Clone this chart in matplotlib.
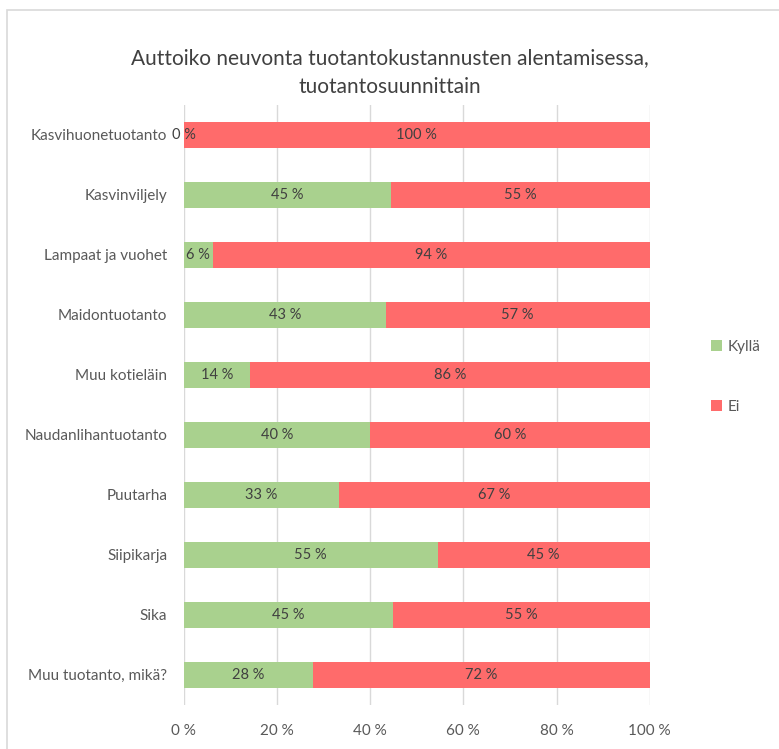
import matplotlib.pyplot as plt
from matplotlib.patches import Rectangle
import numpy as np

plt.rcParams['font.family'] = ['Lato', 'DejaVu Sans']

categories = ["Kasvihuonetuotanto", "Kasvinviljely", "Lampaat ja vuohet", "Maidontuotanto",
              "Muu kotieläin", "Naudanlihantuotanto", "Puutarha", "Siipikarja", "Sika",
              "Muu tuotanto, mikä?"]
kylla = [0, 44.5, 6.25, 43.3, 14.3, 40.0, 33.3, 54.5, 45.0, 27.8]
ei = [100 - v for v in kylla]
kylla_labels = ["0 %", "45 %", "6 %", "43 %", "14 %", "40 %", "33 %", "55 %", "45 %", "28 %"]
ei_labels = ["100 %", "55 %", "94 %", "57 %", "86 %", "60 %", "67 %", "45 %", "55 %", "72 %"]
series_names = ["Kyllä", "Ei"]
xticks = [0, 20, 40, 60, 80, 100]

green = '#a9d18e'
red = '#ff6b6b'
txt = '#404040'
gray = '#595959'

fig = plt.figure(figsize=(7.79, 7.49), dpi=100)
fig.patches.append(Rectangle((0.009, -0.01), 1.2, 0.997, transform=fig.transFigure,
                             fill=False, edgecolor='#d9d9d9', linewidth=1.2))
ax = fig.add_axes([0.236, 0.059, 0.598, 0.801])

y = np.arange(len(categories))
h = 0.43
b1 = ax.barh(y, kylla, height=h, color=green, label=series_names[0], zorder=2)
b2 = ax.barh(y, ei, left=kylla, height=h, color=red, label=series_names[1], zorder=2)

for i in range(len(categories)):
    ax.text(kylla[i] / 2, y[i], kylla_labels[i], ha='center', va='center', fontsize=10.5, color=txt, zorder=3)
    ax.text(kylla[i] + ei[i] / 2, y[i], ei_labels[i], ha='center', va='center', fontsize=10.5, color=txt, zorder=3)

ax.set_ylim(len(categories) - 0.5, -0.5)
ax.set_xlim(0, 100)
ax.set_xticks(xticks)
ax.set_xticklabels([f"{t} %" for t in xticks], fontsize=11, color=gray)
ax.set_yticks(y)
ax.set_yticklabels(categories, fontsize=11, color=gray)
ax.tick_params(axis='y', length=0, pad=12)
ax.tick_params(axis='x', length=0, pad=14)
ax.grid(axis='x', color='#d9d9d9', linewidth=1, zorder=0)
for s in ax.spines.values():
    s.set_visible(False)

fig.text(0.5, 0.903, "Auttoiko neuvonta tuotantokustannusten alentamisessa,\ntuotantosuunnittain",
         ha='center', va='center', fontsize=15, color=txt, linespacing=1.55)

fig.legend(handles=[b1, b2], loc='center left', bbox_to_anchor=(0.895, 0.497),
           frameon=False, fontsize=11, handlelength=0.7, handleheight=0.7,
           handletextpad=0.4, labelspacing=3.0, labelcolor=gray)

fig.savefig("out.png", dpi=100)
